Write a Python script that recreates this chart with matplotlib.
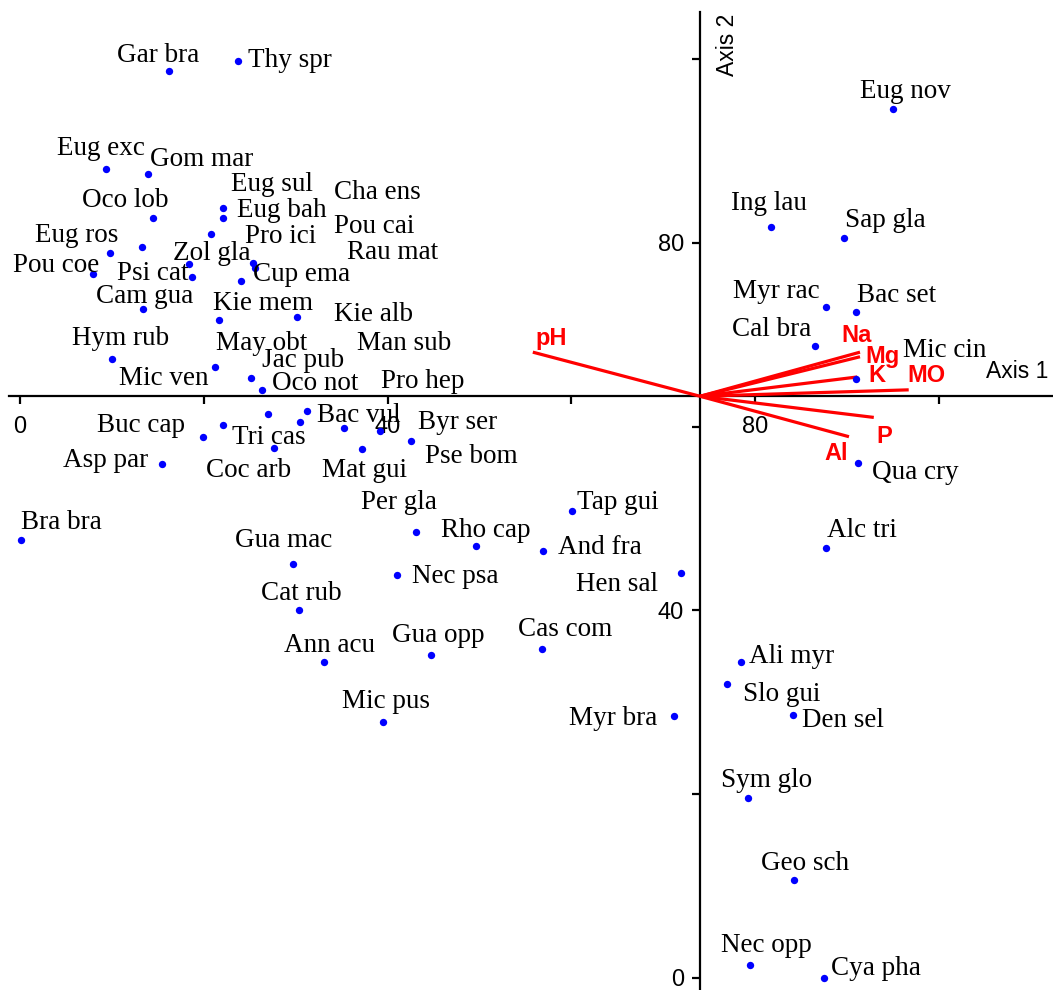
import matplotlib
matplotlib.use("Agg")
import matplotlib.pyplot as plt

# Species scores (Axis 1, Axis 2)
species = [
    "Gar bra", "Thy spr", "Eug exc", "Gom mar", "Oco lob", "Eug sul", "Eug bah",
    "Pro ici", "Cha ens", "Eug ros", "Pou coe", "Zol gla", "Psi cat", "Rau mat",
    "Cup ema", "Pou cai", "Cam gua", "Kie mem", "Kie alb", "Hym rub", "Mic ven",
    "Jac pub", "Oco not", "May obt", "Bac vul", "Pro hep", "Tri cas", "Buc cap",
    "Man sub", "Byr ser", "Coc arb", "Mat gui", "Pse bom", "Asp par", "Bra bra",
    "Tap gui", "Per gla", "Rho cap", "And fra", "Nec psa", "Hen sal", "Gua mac",
    "Cat rub", "Ann acu", "Gua opp", "Cas com", "Mic pus", "Myr bra", "Eug nov",
    "Ing lau", "Sap gla", "Myr rac", "Bac set", "Cal bra", "Mic cin", "Qua cry",
    "Alc tri", "Ali myr", "Slo gui", "Den sel", "Sym glo", "Geo sch", "Nec opp",
    "Cya pha",
]
sp_axis1 = [
    16.2, 23.7, 9.4, 13.9, 14.5, 22.1, 22.1,
    20.8, 13.3, 9.8, 7.9, 18.4, 18.7, 25.4,
    25.6, 24.0, 13.4, 21.7, 30.1, 10.0, 21.2,
    25.1, 26.3, 27.0, 31.2, 30.5, 22.1, 19.9,
    35.3, 39.2, 27.6, 37.2, 42.5, 15.5, 0.1,
    60.1, 43.1, 49.6, 56.9, 41.0, 71.9, 29.7,
    30.4, 33.1, 44.7, 56.8, 39.5, 71.2, 95.0,
    81.7, 89.7, 87.7, 91.0, 86.5, 91.0, 91.2,
    87.7, 78.5, 76.9, 84.1, 79.2, 84.2, 79.4,
    87.5,
]
sp_axis2 = [
    98.7, 99.8, 88.0, 87.5, 82.7, 83.8, 82.7,
    81.0, 79.5, 78.9, 76.6, 77.7, 76.3, 77.8,
    77.3, 75.8, 72.8, 71.6, 71.9, 67.4, 66.5,
    65.3, 64.0, 61.4, 61.7, 60.5, 60.2, 58.9,
    59.8, 59.5, 57.7, 57.6, 58.4, 55.9, 47.7,
    50.8, 48.5, 47.0, 46.5, 43.9, 44.1, 45.0,
    40.0, 34.4, 35.1, 35.8, 27.9, 28.5, 94.6,
    81.7, 80.5, 73.0, 72.5, 68.8, 65.2, 56.0,
    46.8, 34.4, 32.0, 28.6, 19.6, 10.7, 1.4,
    0.0,
]

# Environmental variables: arrow tips in the same ordination space
env_vars = ["pH", "Na", "Mg", "K", "MO", "P", "Al"]
env_axis1 = [55.8, 91.4, 91.4, 91.1, 96.7, 92.9, 90.2]
env_axis2 = [68.1, 68.1, 67.6, 65.4, 64.0, 61.0, 58.9]

# Biplot origin where the two axes cross
origin = (74.0, 63.3)

# Label placement (pixel offsets from each point: left edge, baseline)
sp_label_offsets = [
    (-52, 9), (10, -6), (-49, 14), (2, 8), (-71, 11), (8, 17), (14, 1),
    (34, -9), (192, 48), (-75, 11), (-80, 2), (-16, 4), (-75, -3), (94, 4),
    (-2, -13), (93, 48), (-47, 6), (-6, 10), (37, -4), (-40, 14), (-96, -18),
    (11, 11), (10, 0), (-52, 64), (10, -11), (81, 34), (9, -19), (-106, 5),
    (13, 78), (38, 2), (-68, -29), (-40, -28), (14, -22), (-99, -3), (0, 11),
    (5, 2), (-55, 23), (-35, 9), (15, -3), (15, -8), (-105, -18), (-58, 17),
    (-38, 10), (-40, 10), (-39, 13), (-24, 13), (-41, 14), (-105, -9), (-33, 11),
    (-40, 17), (1, 11), (-93, 9), (1, 10), (-83, 10), (47, 22), (14, -16),
    (1, 11), (8, -1), (16, -17), (9, -12), (-27, 11), (-33, 10), (-29, 13),
    (7, 3),
]
env_label_offsets = [(18, 14), (-3, 17), (22, 0), (20, 1), (18, 14), (10, -19), (-13, -17)]

W, H, DPI = 1053, 990, 100
fig = plt.figure(figsize=(W / DPI, H / DPI), dpi=DPI)
ax = fig.add_axes([0, 0, 1, 1])
ax.set_xlim(-2.176, 112.40)
ax.set_ylim(-1.306, 106.42)
ax.patch.set_alpha(0)

# Axes drawn through the origin
for side in ("top", "right"):
    ax.spines[side].set_visible(False)
ax.spines["left"].set_position(("data", origin[0]))
ax.spines["bottom"].set_position(("data", origin[1]))
ax.spines["left"].set_bounds(-1.306, 105.1)
ax.spines["bottom"].set_bounds(-1.16, 112.40)
for side in ("left", "bottom"):
    ax.spines[side].set_linewidth(1.6)
    ax.spines[side].set_zorder(1)

ticks = [0, 20, 40, 60, 80, 100]
tick_labels = ["0", "", "40", "", "80", ""]
ax.set_xticks(ticks)
ax.set_xticklabels(tick_labels)
ax.set_yticks(ticks)
ax.set_yticklabels(tick_labels)
ax.tick_params(axis="both", direction="out", length=5.5, width=1.6,
               labelsize=17)
ax.tick_params(axis="x", pad=8.5)
ax.tick_params(axis="y", pad=6)
for lab in ax.get_xticklabels() + ax.get_yticklabels():
    lab.set_family("Liberation Sans")

ax.text(1017 / W, 1 - 371.7 / H, "Axis 1", transform=ax.transAxes,
        ha="center", va="center", fontsize=16.5, family="Liberation Sans")
ax.text(727 / W, 1 - 44.5 / H, "Axis 2", transform=ax.transAxes,
        ha="center", va="center", rotation=90, fontsize=16.5,
        family="Liberation Sans")

# Environmental vectors
for name, ex, ey, (dx, dy) in zip(env_vars, env_axis1, env_axis2, env_label_offsets):
    ax.plot([origin[0], ex], [origin[1], ey], color="#ff0000", lw=2.3,
            solid_capstyle="butt", zorder=3)
    ax.annotate(name, (ex, ey), xytext=(dx, dy), textcoords="offset pixels",
                ha="center", va="center", color="#ff0000", fontsize=17,
                fontweight="bold", family="Liberation Sans", zorder=5)

# Species points and names
ax.scatter(sp_axis1, sp_axis2, s=28, color="#0000ff", linewidths=0, zorder=4)
for name, sx, sy, (dx, dy) in zip(species, sp_axis1, sp_axis2, sp_label_offsets):
    ax.annotate(name, (sx, sy), xytext=(dx, dy), textcoords="offset pixels",
                ha="left", va="baseline", fontsize=19.5,
                family="Liberation Serif", color="black", zorder=5)

fig.savefig("out.png", dpi=DPI, facecolor="white")
